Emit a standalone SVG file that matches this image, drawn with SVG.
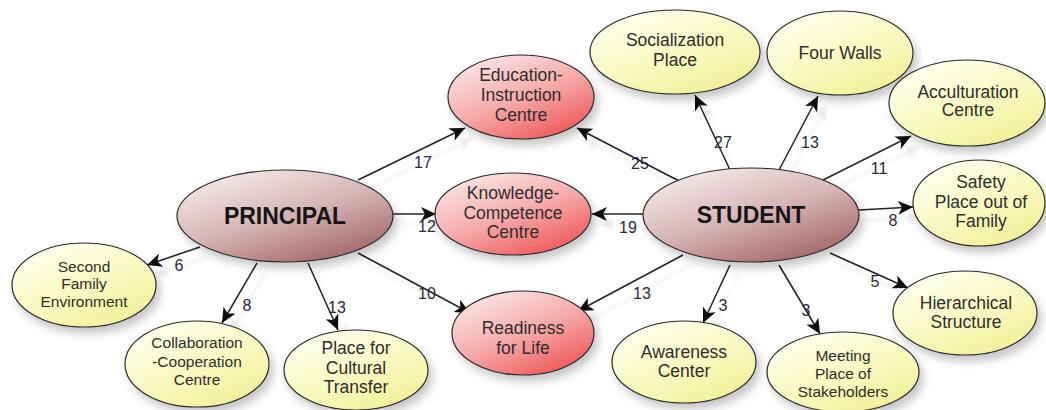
<svg xmlns="http://www.w3.org/2000/svg" width="1046" height="410" viewBox="0 0 1046 410">
<style>
.lbl{font-family:"Liberation Sans",Arial,sans-serif;font-size:17.5px;fill:#2e2e2e;text-anchor:middle}
.sm{font-size:15.5px}
.big{font-family:"Liberation Sans",Arial,sans-serif;font-size:23px;font-weight:bold;fill:#151515;text-anchor:middle}
.num{font-family:"Liberation Sans",Arial,sans-serif;font-size:16px;fill:#2a2a3a;text-anchor:middle}
.edge{stroke:#222;stroke-width:1.5;fill:none;marker-end:url(#ah)}
ellipse{stroke:#2a2a2a;stroke-width:1.2}
.main{fill:url(#gMain)}
.red{fill:url(#gRed)}
.yel{fill:url(#gYel)}
</style>
<defs>
<linearGradient id="gMain" x1="0.15" y1="0" x2="0.85" y2="1">
<stop offset="0" stop-color="#f7eeee"/>
<stop offset="0.5" stop-color="#d6b4b4"/>
<stop offset="1" stop-color="#9e5e5e"/>
</linearGradient>
<linearGradient id="gRed" x1="0.15" y1="0" x2="0.85" y2="1">
<stop offset="0" stop-color="#fbeaea"/>
<stop offset="0.5" stop-color="#f6abab"/>
<stop offset="1" stop-color="#ee4f4f"/>
</linearGradient>
<linearGradient id="gYel" x1="0.15" y1="0" x2="0.85" y2="1">
<stop offset="0" stop-color="#fffff2"/>
<stop offset="0.5" stop-color="#fafac4"/>
<stop offset="1" stop-color="#efef92"/>
</linearGradient>
<filter id="sh" x="-20%" y="-20%" width="150%" height="160%">
<feDropShadow dx="4" dy="6" stdDeviation="4" flood-color="#000" flood-opacity="0.22"/>
</filter>
<filter id="esh" x="-20%" y="-20%" width="150%" height="160%">
<feDropShadow dx="8" dy="10" stdDeviation="1.5" flood-color="#000" flood-opacity="0.08"/>
</filter>
<marker id="ah" markerUnits="userSpaceOnUse" markerWidth="16" markerHeight="14" refX="15" refY="7" orient="auto">
<path d="M0,0 L15,7 L0,14 L4,7 z" fill="#111"/>
</marker>
</defs>

<g id="connectors" filter="url(#esh)">
<line class="edge" x1="358" y1="180" x2="465" y2="128"/>
<line class="edge" x1="393" y1="214" x2="436" y2="214"/>
<line class="edge" x1="358" y1="253" x2="470" y2="313"/>
<line class="edge" x1="200" y1="247" x2="147" y2="265"/>
<line class="edge" x1="257" y1="263" x2="222" y2="323"/>
<line class="edge" x1="308" y1="263" x2="338" y2="330"/>
<line class="edge" x1="681" y1="182" x2="577" y2="128"/>
<line class="edge" x1="644" y1="214" x2="592" y2="214"/>
<line class="edge" x1="683" y1="255" x2="578" y2="311"/>
<line class="edge" x1="730" y1="170" x2="695" y2="95"/>
<line class="edge" x1="778" y1="172" x2="818" y2="96"/>
<line class="edge" x1="823" y1="180" x2="911" y2="136"/>
<line class="edge" x1="859" y1="210" x2="913" y2="207"/>
<line class="edge" x1="830" y1="253" x2="908" y2="288"/>
<line class="edge" x1="730" y1="265" x2="703" y2="323"/>
<line class="edge" x1="779" y1="265" x2="820" y2="334"/>
</g>
<g id="edge-labels">
<text class="num" x="423" y="168">17</text>
<text class="num" x="427" y="232">12</text>
<text class="num" x="427" y="299">10</text>
<text class="num" x="179" y="271">6</text>
<text class="num" x="247" y="311">8</text>
<text class="num" x="337" y="313">13</text>
<text class="num" x="640" y="169">25</text>
<text class="num" x="628" y="233">19</text>
<text class="num" x="642" y="299">13</text>
<text class="num" x="723" y="148">27</text>
<text class="num" x="810" y="148">13</text>
<text class="num" x="879" y="174">11</text>
<text class="num" x="893" y="226">8</text>
<text class="num" x="875" y="287">5</text>
<text class="num" x="723" y="311">3</text>
<text class="num" x="806" y="316">3</text>
</g>

<g id="principal">
<ellipse class="main" filter="url(#sh)" cx="285" cy="216" rx="108" ry="46"/>
<text class="big" x="285" y="224">PRINCIPAL</text>
</g>
<g id="student">
<ellipse class="main" filter="url(#sh)" cx="751" cy="215" rx="108" ry="47"/>
<text class="big" x="751" y="223">STUDENT</text>
</g>
<g id="education-instruction">
<ellipse class="red" filter="url(#sh)" cx="521" cy="97" rx="73" ry="42"/>
<text class="lbl" x="521" y="81">Education-</text>
<text class="lbl" x="521" y="101">Instruction</text>
<text class="lbl" x="521" y="121">Centre</text>
</g>
<g id="knowledge-competence">
<ellipse class="red" filter="url(#sh)" cx="513" cy="214" rx="78" ry="41"/>
<text class="lbl" x="513" y="199">Knowledge-</text>
<text class="lbl" x="513" y="219">Competence</text>
<text class="lbl" x="513" y="238">Centre</text>
</g>
<g id="readiness">
<ellipse class="red" filter="url(#sh)" cx="523" cy="333" rx="71" ry="42"/>
<text class="lbl" x="523" y="334">Readiness</text>
<text class="lbl" x="523" y="354">for Life</text>
</g>
<g id="socialization">
<ellipse class="yel" filter="url(#sh)" cx="675" cy="52" rx="85" ry="42"/>
<text class="lbl" x="675" y="46">Socialization</text>
<text class="lbl" x="675" y="66">Place</text>
</g>
<g id="four-walls">
<ellipse class="yel" filter="url(#sh)" cx="840" cy="53" rx="73" ry="42"/>
<text class="lbl" x="840" y="59">Four Walls</text>
</g>
<g id="acculturation">
<ellipse class="yel" filter="url(#sh)" cx="967" cy="103" rx="78" ry="43"/>
<text class="lbl" x="968" y="98">Acculturation</text>
<text class="lbl" x="968" y="116">Centre</text>
</g>
<g id="safety">
<ellipse class="yel" filter="url(#sh)" cx="979" cy="203" rx="66" ry="43"/>
<text class="lbl" x="981" y="188">Safety</text>
<text class="lbl" x="981" y="208">Place out of</text>
<text class="lbl" x="981" y="227">Family</text>
</g>
<g id="hierarchical">
<ellipse class="yel" filter="url(#sh)" cx="965" cy="313" rx="72" ry="42"/>
<text class="lbl" x="966" y="309">Hierarchical</text>
<text class="lbl" x="966" y="328">Structure</text>
</g>
<g id="meeting">
<ellipse class="yel" filter="url(#sh)" cx="843" cy="372" rx="76" ry="40"/>
<text class="lbl sm" x="843" y="361">Meeting</text>
<text class="lbl sm" x="843" y="379">Place of</text>
<text class="lbl sm" x="843" y="397">Stakeholders</text>
</g>
<g id="awareness">
<ellipse class="yel" filter="url(#sh)" cx="684" cy="362" rx="72" ry="41"/>
<text class="lbl" x="684" y="358">Awareness</text>
<text class="lbl" x="684" y="377">Center</text>
</g>
<g id="second-family">
<ellipse class="yel" filter="url(#sh)" cx="84" cy="285" rx="72" ry="42"/>
<text class="lbl sm" x="84" y="272">Second</text>
<text class="lbl sm" x="84" y="289">Family</text>
<text class="lbl sm" x="84" y="307">Environment</text>
</g>
<g id="collaboration">
<ellipse class="yel" filter="url(#sh)" cx="197" cy="364" rx="72" ry="43"/>
<text class="lbl sm" x="197" y="348">Collaboration</text>
<text class="lbl sm" x="197" y="367">-Cooperation</text>
<text class="lbl sm" x="197" y="385">Centre</text>
</g>
<g id="cultural-transfer">
<ellipse class="yel" filter="url(#sh)" cx="356" cy="370" rx="72" ry="40"/>
<text class="lbl" x="356" y="354">Place for</text>
<text class="lbl" x="356" y="374">Cultural</text>
<text class="lbl" x="356" y="393">Transfer</text>
</g>
</svg>
